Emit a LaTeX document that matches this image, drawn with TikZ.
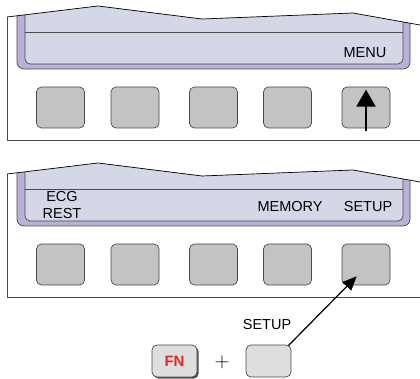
\documentclass[tikz,border=0pt]{standalone}
\usepackage{fontspec}
\setmainfont{Liberation Sans}
\usepackage{tikz}
\usetikzlibrary{
    arrows.meta,
    calc,
    shadows,
    positioning
}
\definecolor{bezel}{HTML}{B9B1D9}
\definecolor{lcd}{HTML}{D4D7E6}
\definecolor{keygray}{HTML}{C3C3C3}
\definecolor{keylight}{HTML}{DEDEDE}
\definecolor{edgegray}{HTML}{4A4A4A}
\definecolor{fnred}{HTML}{E02828}

\begin{document}
\begin{tikzpicture}[x=1pt, y=-1pt,
    softkey/.style={draw=edgegray, line width=0.7pt, fill=keygray, rounded corners=5pt,
        minimum width=48pt, minimum height=41pt, inner sep=0pt},
    hardkey/.style={draw=edgegray, line width=0.7pt, fill=keylight, rounded corners=5pt,
        minimum width=45pt, minimum height=32pt, inner sep=0pt},
    lcdtext/.style={font=\fontsize{14.5}{17}\selectfont, align=center, inner sep=0pt},
    frameline/.style={draw=edgegray, line width=0.7pt},
    tornline/.style={draw=black, line width=0.7pt}
]
    \fill[white] (0,0) rectangle (420,379);
    \useasboundingbox (0,0) rectangle (420,379);
    % two panels of the front: same look, shifted down
    \foreach \dy/\p in {0/m, 157/s}{
        \begin{scope}[shift={(0,\dy)}]
            \draw[frameline] (7,17) -- (7,140) -- (420,140);
            \begin{scope}
                \clip (7,17) -- (98,6) -- (202,19) -- (353,13) -- (420,25) -- (420,140) -- (7,140) -- cycle;
                \draw[frameline, fill=bezel, rounded corners=7pt] (17,0) rectangle (410,69);
                \draw[frameline, fill=lcd, rounded corners=5pt] (25,0) rectangle (403,64);
                \draw[frameline] (25,32) -- (403,32);
            \end{scope}
            \draw[tornline] (7,17) -- (98,6) -- (202,19) -- (353,13) -- (420,25);
            \foreach \i/\x in {1/60.5, 2/135, 3/213.5, 4/287.5, 5/366}
                \node[softkey] (\p\i) at (\x,107.5) {};
        \end{scope}
    }
    \node[lcdtext] (menu) at (365,53) {MENU};
    \node[lcdtext] (ecg) at (62,205.5) {ECG\\REST};
    \node[lcdtext] (memory) at (290,207) {MEMORY};
    \node[lcdtext] (setup) at (368,207) {SETUP};

    \coordinate (push) at (366,131);
    \draw[-{Triangle[length=17pt,width=19pt]}, line width=2.4pt] (push) -- ($(m5.north)+(0,3)$);

    \node[hardkey, drop shadow={shadow xshift=1.6pt, shadow yshift=-1.6pt, fill=edgegray, opacity=1},
        font=\fontsize{15}{15}\selectfont\bfseries, text=fnred] (fn) at (174.5,361) {FN};
    \node (plus) at (222,362) {\fontsize{20}{20}\selectfont$+$};
    \node[hardkey] (setkey) at (268.5,361) {};
    \node[lcdtext] (setlabel) at (267,325) {SETUP};
    \draw[-{Triangle[length=14pt,width=12pt]}, line width=1.2pt]
        ($(setkey.north east)+(-3,1)$) -- ($(s5.south west)+(15,-9)$);
\end{tikzpicture}
\end{document}
